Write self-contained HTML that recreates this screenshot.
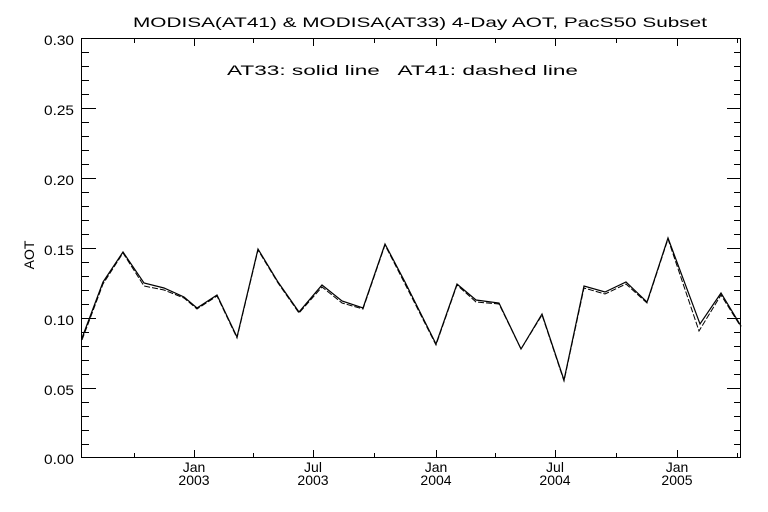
<!DOCTYPE html>
<html><head><style>
html,body{margin:0;padding:0;background:#fff;}
svg{display:block;}
text{font-family:"Liberation Sans",sans-serif;font-size:14px;fill:#000;}
</style></head><body>
<svg width="768" height="512" xmlns="http://www.w3.org/2000/svg">
<rect width="768" height="512" fill="#fff"/>
<text x="133" y="27" font-size="16" textLength="574" lengthAdjust="spacingAndGlyphs">MODISA(AT41) &amp; MODISA(AT33) 4-Day AOT, PacS50 Subset</text>
<text x="227" y="75" font-size="16" textLength="351" lengthAdjust="spacingAndGlyphs" xml:space="preserve">AT33: solid line   AT41: dashed line</text>
<rect x="81.5" y="38.5" width="659" height="419" fill="none" stroke="#000" stroke-width="1"/>
<g stroke="#000" stroke-width="1">
<path d="M82 38.5h14M82 108.5h14M82 178.5h14M82 248.5h14M82 318.5h14M82 388.5h14M82 457.5h14"/>
<path d="M82 52.5h7M82 66.5h7M82 80.5h7M82 94.5h7M82 122.5h7M82 136.5h7M82 150.5h7M82 164.5h7M82 192.5h7M82 206.5h7M82 220.5h7M82 234.5h7M82 262.5h7M82 276.5h7M82 290.5h7M82 304.5h7M82 332.5h7M82 346.5h7M82 360.5h7M82 374.5h7M82 402.5h7M82 416.5h7M82 430.5h7M82 444.5h7"/>
<path d="M741 38.5h-14M741 108.5h-14M741 178.5h-14M741 248.5h-14M741 318.5h-14M741 388.5h-14M741 457.5h-14"/>
<path d="M741 52.5h-7M741 66.5h-7M741 80.5h-7M741 94.5h-7M741 122.5h-7M741 136.5h-7M741 150.5h-7M741 164.5h-7M741 192.5h-7M741 206.5h-7M741 220.5h-7M741 234.5h-7M741 262.5h-7M741 276.5h-7M741 290.5h-7M741 304.5h-7M741 332.5h-7M741 346.5h-7M741 360.5h-7M741 374.5h-7M741 402.5h-7M741 416.5h-7M741 430.5h-7M741 444.5h-7"/>
<path d="M194.5 457v-7M313.5 457v-7M436.5 457v-7M555.5 457v-7M677.5 457v-7"/>
<path d="M134.5 457v-4M253.5 457v-4M374.5 457v-4M495.5 457v-4M616.5 457v-4M737.5 457v-4"/>
<path d="M194.5 39v7M313.5 39v7M436.5 39v7M555.5 39v7M677.5 39v7"/>
<path d="M134.5 39v4M253.5 39v4M374.5 39v4M495.5 39v4M616.5 39v4M737.5 39v4"/>
</g>
<g>
<text x="44" y="45" textLength="30" lengthAdjust="spacingAndGlyphs">0.30</text>
<text x="44" y="115" textLength="30" lengthAdjust="spacingAndGlyphs">0.25</text>
<text x="44" y="185" textLength="30" lengthAdjust="spacingAndGlyphs">0.20</text>
<text x="44" y="255" textLength="30" lengthAdjust="spacingAndGlyphs">0.15</text>
<text x="44" y="325" textLength="30" lengthAdjust="spacingAndGlyphs">0.10</text>
<text x="44" y="395" textLength="30" lengthAdjust="spacingAndGlyphs">0.05</text>
<text x="44" y="464" textLength="30" lengthAdjust="spacingAndGlyphs">0.00</text>
</g>
<text transform="translate(34,255) rotate(-90)" text-anchor="middle" font-size="12">AOT</text>
<g text-anchor="middle">
<text x="194" y="472">Jan</text><text x="194" y="485">2003</text>
<text x="313" y="472">Jul</text><text x="313" y="485">2003</text>
<text x="436" y="472">Jan</text><text x="436" y="485">2004</text>
<text x="555" y="472">Jul</text><text x="555" y="485">2004</text>
<text x="677" y="472">Jan</text><text x="677" y="485">2005</text>
</g>
<polyline fill="none" stroke="#000" stroke-width="1.2" points="82,338 103,282 123,252 144,283 164,288 184,297 197,308 217,295 237,337 258,249 278,282 299,312 322,285 342,301 363,308 385,244 405,282 436,344 457,284 476,300 499,303 521,349 542,314 564,380 584,286 605,292 626,282 647,302 668,238 700,324 721,293 741,326"/>
<polyline fill="none" stroke="#000" stroke-width="1" stroke-dasharray="6,2" points="82,340 103,284 123,253 144,286 164,290 184,298 197,309 217,296 237,338 258,250 278,283 299,313 322,287 342,303 363,309 385,245 405,284 436,345 457,285 476,302 499,304 521,349 542,315 564,381 584,288 605,294 626,284 647,303 668,239 699,331 721,295 741,327"/>
</svg>
</body></html>
